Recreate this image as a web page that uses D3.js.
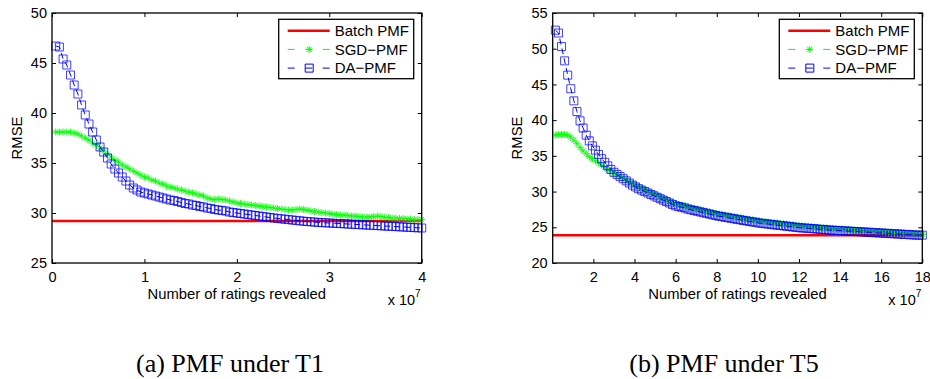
<!DOCTYPE html>
<html>
<head>
<meta charset="utf-8">
<script src="https://cdn.jsdelivr.net/npm/d3@7/dist/d3.min.js"></script>
<style>
  body { margin: 0; background: #fff; }
  svg text { font-family: "Liberation Sans", Arial, Helvetica, sans-serif; }
</style>
</head>
<body>
<svg id="fig" width="930" height="379"></svg>
<script>
// ---- data (RMSE, x in units of 1e7 ratings) ----
var t1Start = 0.04, t1Step = 0.04;
var t1Batch = 29.2;
var t1Sgd = [
  38.1, 38.1, 38.1, 38.1, 38.1, 38.0, 37.9, 37.7, 37.5, 37.3, 37.0, 36.8, 36.5, 36.2, 35.9, 35.6, 35.3, 35.1, 34.8, 34.6, 34.4, 34.2, 34.0, 33.8, 33.6,
  33.5, 33.3, 33.2, 33.0, 32.9, 32.7, 32.6, 32.5, 32.4, 32.3, 32.2, 32.1, 32.0, 31.9, 31.8, 31.7, 31.5, 31.4, 31.35, 31.4, 31.35, 31.3, 31.2, 31.1, 31.0,
  30.95, 30.9, 30.85, 30.8, 30.75, 30.7, 30.65, 30.6, 30.55, 30.5, 30.45, 30.4, 30.35, 30.3, 30.3, 30.35, 30.4, 30.35, 30.3, 30.2, 30.15, 30.1, 30.05, 30.0, 29.95,
  29.9, 29.85, 29.8, 29.8, 29.75, 29.7, 29.7, 29.65, 29.6, 29.6, 29.6, 29.65, 29.7, 29.65, 29.6, 29.55, 29.5, 29.5, 29.45, 29.45, 29.4, 29.4, 29.35, 29.35, 29.35
];
var t1Da = [
  46.7, 46.6, 45.4, 44.8, 43.8, 42.8, 41.9, 40.8, 39.8, 38.9, 38.1, 37.3, 36.6, 36.1, 35.5, 34.9, 34.4, 34.0, 33.6, 33.2, 32.8, 32.5, 32.3, 32.1, 32.0,
  31.9, 31.8, 31.7, 31.6, 31.5, 31.4, 31.3, 31.25, 31.15, 31.05, 30.95, 30.9, 30.8, 30.75, 30.65, 30.6, 30.5, 30.45, 30.35, 30.3, 30.25, 30.2, 30.1, 30.05, 30.0,
  29.95, 29.9, 29.85, 29.8, 29.75, 29.7, 29.65, 29.6, 29.55, 29.5, 29.46, 29.42, 29.38, 29.34, 29.3, 29.26, 29.22, 29.18, 29.15, 29.12, 29.09, 29.06, 29.04, 29.02, 29.0,
  28.98, 28.96, 28.94, 28.92, 28.9, 28.88, 28.86, 28.84, 28.82, 28.8, 28.78, 28.76, 28.74, 28.72, 28.7, 28.68, 28.66, 28.64, 28.62, 28.6, 28.58, 28.56, 28.54, 28.52, 28.5
];

var t5Start = 0.15, t5Step = 0.15;
var t5Batch = 23.9;
var t5Sgd = [
  37.9, 38.0, 38.0, 38.0, 37.9, 37.6, 37.2, 36.7, 36.2, 35.7, 35.3, 34.9, 34.6, 34.3, 34.0, 33.7, 33.4, 33.1, 32.9, 32.6,
  32.35, 32.1, 31.85, 31.6, 31.35, 31.1, 30.9, 30.65, 30.45, 30.25, 30.05, 29.85, 29.65, 29.45, 29.25, 29.05, 28.85, 28.65, 28.45, 28.3,
  28.2, 28.1, 28.0, 27.85, 27.75, 27.65, 27.55, 27.45, 27.35, 27.25, 27.15, 27.05, 26.95, 26.85, 26.8, 26.7, 26.6, 26.55, 26.45, 26.4,
  26.35, 26.25, 26.2, 26.1, 26.05, 26.0, 25.9, 25.85, 25.8, 25.75, 25.7, 25.65, 25.6, 25.55, 25.5, 25.45, 25.4, 25.35, 25.3, 25.25,
  25.2, 25.15, 25.1, 25.1, 25.05, 25.0, 24.95, 24.95, 24.9, 24.85, 24.85, 24.8, 24.75, 24.75, 24.7, 24.7, 24.65, 24.6, 24.6, 24.55,
  24.55, 24.5, 24.5, 24.45, 24.45, 24.4, 24.4, 24.35, 24.3, 24.3, 24.25, 24.25, 24.2, 24.2, 24.15, 24.15, 24.1, 24.1, 24.05, 24.0
];
var t5Da = [
  52.6, 52.2, 50.3, 48.3, 46.3, 44.4, 42.7, 41.2, 39.9, 38.9, 37.9, 37.1, 36.4, 35.8, 35.2, 34.6, 34.1, 33.6, 33.1, 32.7,
  32.4, 32.1, 31.8, 31.5, 31.2, 30.9, 30.65, 30.4, 30.2, 30.0, 29.8, 29.6, 29.4, 29.2, 29.0, 28.8, 28.6, 28.4, 28.2, 28.0,
  27.9, 27.8, 27.7, 27.55, 27.45, 27.35, 27.25, 27.15, 27.05, 26.95, 26.85, 26.75, 26.65, 26.55, 26.5, 26.4, 26.35, 26.25, 26.2, 26.1,
  26.05, 25.95, 25.9, 25.8, 25.75, 25.7, 25.6, 25.55, 25.5, 25.45, 25.4, 25.35, 25.3, 25.25, 25.2, 25.15, 25.1, 25.05, 25.0, 24.95,
  24.9, 24.9, 24.85, 24.8, 24.8, 24.75, 24.7, 24.7, 24.65, 24.6, 24.6, 24.55, 24.55, 24.5, 24.5, 24.45, 24.45, 24.4, 24.4, 24.35,
  24.35, 24.3, 24.3, 24.25, 24.25, 24.2, 24.2, 24.15, 24.15, 24.1, 24.1, 24.05, 24.05, 24.0, 24.0, 23.95, 23.95, 23.9, 23.9, 23.9
];

var t1XTicks = [0, 1, 2, 3, 4];
var t1YTicks = [25, 30, 35, 40, 45, 50];
var t5XTicks = [2, 4, 6, 8, 10, 12, 14, 16, 18];
var t5YTicks = [20, 25, 30, 35, 40, 45, 50, 55];

var legendNames = ["Batch PMF", "SGD\u2212PMF", "DA\u2212PMF"];
var captions = ["(a) PMF under T1", "(b) PMF under T5"];

var RED = "#ff0000", GREEN = "#00ff00", BLUE = "#0000ff";

var svg = d3.select("#fig");

function toPoints(start, step, vals) {
  return vals.map(function(v, i) { return { x: start + i * step, y: v }; });
}

// marker shapes
var starPath = "M-3.5,0H3.5M0,-3.5V3.5M-2.5,-2.5L2.5,2.5M-2.5,2.5L2.5,-2.5";
var squarePath = "M-4,-4H4V4H-4Z";

function drawPanel(p) {
  var g = svg.append("g");

  var x = d3.scaleLinear().domain(p.xDomain).range([p.left, p.right]);
  var y = d3.scaleLinear().domain(p.yDomain).range([p.bottom, p.top]);

  var sgd = toPoints(p.start, p.step, p.sgd);
  var da = toPoints(p.start, p.step, p.da);

  // batch PMF constant line
  g.append("line")
    .attr("x1", p.left).attr("x2", p.right)
    .attr("y1", y(p.batch)).attr("y2", y(p.batch))
    .attr("stroke", RED).attr("stroke-width", 2.5);

  var line = d3.line().x(function(d) { return x(d.x); }).y(function(d) { return y(d.y); });

  // SGD-PMF
  g.append("path").datum(sgd)
    .attr("d", line).attr("fill", "none")
    .attr("stroke", GREEN).attr("stroke-width", 1).attr("stroke-dasharray", "6,4");
  g.append("g").selectAll("path").data(sgd).join("path")
    .attr("transform", function(d) { return "translate(" + x(d.x) + "," + y(d.y) + ")"; })
    .attr("d", starPath).attr("fill", "none")
    .attr("stroke", GREEN).attr("stroke-width", 1).attr("stroke-opacity", 0.85);

  // DA-PMF
  g.append("path").datum(da)
    .attr("d", line).attr("fill", "none")
    .attr("stroke", BLUE).attr("stroke-width", 1).attr("stroke-dasharray", "6,4");
  g.append("g").selectAll("path").data(da).join("path")
    .attr("transform", function(d) { return "translate(" + x(d.x) + "," + y(d.y) + ")"; })
    .attr("d", squarePath).attr("fill", "none")
    .attr("stroke", BLUE).attr("stroke-width", 1).attr("stroke-opacity", 0.75);

  // axes (ticks pointing inward on all four sides)
  var fontF = '"Liberation Sans", Arial, Helvetica, sans-serif';
  var xb = g.append("g").attr("transform", "translate(0," + p.bottom + ")")
    .call(d3.axisBottom(x).tickValues(p.xTicks).tickSize(-4).tickPadding(9).tickFormat(d3.format("d")));
  var yl = g.append("g").attr("transform", "translate(" + p.left + ",0)")
    .call(d3.axisLeft(y).tickValues(p.yTicks).tickSize(-4).tickPadding(5).tickFormat(d3.format("d")));
  var xt = g.append("g").attr("transform", "translate(0," + p.top + ")")
    .call(d3.axisTop(x).tickValues(p.xTicks).tickSize(-4).tickFormat(""));
  var yr = g.append("g").attr("transform", "translate(" + p.right + ",0)")
    .call(d3.axisRight(y).tickValues(p.yTicks).tickSize(-4).tickFormat(""));
  [xb, yl, xt, yr].forEach(function(a) {
    a.attr("font-size", 14.5).attr("font-family", fontF);
    a.select(".domain").remove();
    a.selectAll(".tick line").attr("stroke", "#000").attr("stroke-width", 1);
    a.selectAll("text").attr("fill", "#000");
  });

  // frame
  g.append("rect")
    .attr("x", p.left).attr("y", p.top)
    .attr("width", p.right - p.left).attr("height", p.bottom - p.top)
    .attr("fill", "none").attr("stroke", "#000").attr("stroke-width", 1.3);

  // axis labels
  g.append("text")
    .attr("x", (p.left + p.right) / 2).attr("y", 298.5)
    .attr("text-anchor", "middle").attr("font-size", 14.8)
    .text("Number of ratings revealed");
  var ex = g.append("text")
    .attr("x", p.right - 34).attr("y", 305)
    .attr("font-size", 14.5);
  ex.append("tspan").text("x 10");
  ex.append("tspan").attr("dy", -8).attr("font-size", 10).text("7");

  g.append("text")
    .attr("transform", "translate(" + (p.left - 30.5) + "," + ((p.top + p.bottom) / 2) + ") rotate(-90)")
    .attr("text-anchor", "middle").attr("font-size", 14.8)
    .text("RMSE");

  // legend
  var lx = p.right - 143, ly = p.top + 6.3;
  var lg = g.append("g").attr("transform", "translate(" + lx + "," + ly + ")");
  lg.append("rect").attr("width", 135).attr("height", 59.4)
    .attr("fill", "#fff").attr("stroke", "#000").attr("stroke-width", 1.3);
  var rows = [
    { name: legendNames[0], color: RED, width: 2.5, dash: null, marker: null },
    { name: legendNames[1], color: GREEN, width: 1, dash: "7,10.5", marker: starPath },
    { name: legendNames[2], color: BLUE, width: 1, dash: "7,10.5", marker: squarePath }
  ];
  rows.forEach(function(r, i) {
    var ry = 11.4 + i * 18.7;
    lg.append("line").attr("x1", 9).attr("x2", 51).attr("y1", ry).attr("y2", ry)
      .attr("stroke", r.color).attr("stroke-width", r.width)
      .attr("stroke-dasharray", r.dash);
    if (r.marker) {
      lg.append("path").attr("transform", "translate(30.5," + ry + ")")
        .attr("d", r.marker).attr("fill", "none")
        .attr("stroke", r.color).attr("stroke-width", 1);
    }
    lg.append("text").attr("x", 56).attr("y", ry + 5.2)
      .attr("font-size", 15).attr("fill", "#000").text(r.name);
  });

  // caption
  svg.append("text")
    .attr("x", p.captionX).attr("y", 372)
    .attr("text-anchor", "middle")
    .attr("font-size", 26)
    .style("font-family", '"Liberation Serif", "Times New Roman", serif')
    .text(p.caption);
}

drawPanel({
  left: 52, right: 421.7, top: 13, bottom: 263,
  xDomain: [0, 4], yDomain: [25, 50],
  xTicks: t1XTicks, yTicks: t1YTicks,
  start: t1Start, step: t1Step, sgd: t1Sgd, da: t1Da, batch: t1Batch,
  caption: captions[0], captionX: 230
});
drawPanel({
  left: 552.7, right: 922.3, top: 13, bottom: 263,
  xDomain: [0.02, 18], yDomain: [20, 55],
  xTicks: t5XTicks, yTicks: t5YTicks,
  start: t5Start, step: t5Step, sgd: t5Sgd, da: t5Da, batch: t5Batch,
  caption: captions[1], captionX: 724
});
</script>
</body>
</html>
